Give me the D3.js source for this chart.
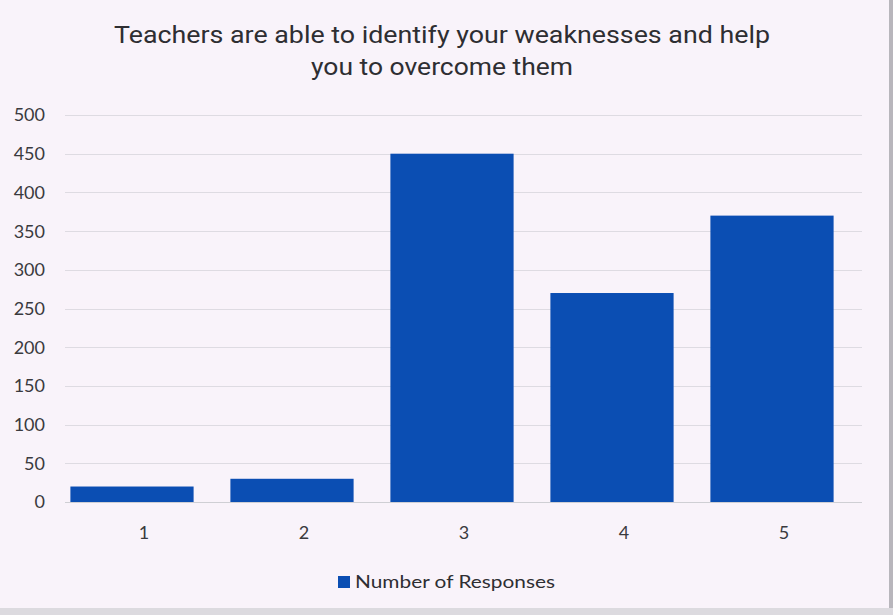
<!DOCTYPE html>
<html>
<head>
<meta charset="utf-8">
<script src="https://cdn.jsdelivr.net/npm/d3@7"></script>
<style>
  body { margin: 0; background: #f9f3fa; }
  svg { display: block; }
</style>
</head>
<body>
<div id="chart"></div>
<script>
// chart data
const categories = ["1", "2", "3", "4", "5"];
const responses = [20, 30, 450, 270, 370];
const yTicks = [0, 50, 100, 150, 200, 250, 300, 350, 400, 450, 500];
const titleLines = ["Teachers are able to identify your weaknesses and help", "you to overcome them"];
const seriesName = "Number of Responses";

const W = 893, H = 615;
const barColor = "#0b4eb3";
const labelFont = "Lato, 'Open Sans', sans-serif";

const svg = d3.select("#chart").append("svg")
    .attr("width", W)
    .attr("height", H);

// page background + scanned edge
svg.append("rect").attr("width", W).attr("height", H).attr("fill", "#f9f3fa");
svg.append("rect").attr("x", W - 4).attr("y", 0).attr("width", 4).attr("height", H).attr("fill", "#b8b6bc");
svg.append("rect").attr("x", 0).attr("y", H - 7).attr("width", W).attr("height", 7).attr("fill", "#dcdadf");

const y = d3.scaleLinear().domain([0, 500]).range([502, 115]);
const x = d3.scaleBand().domain(categories).range([52, 852])
    .paddingInner(0.23).paddingOuter(0.115);

// gridlines
svg.append("g")
    .selectAll("line")
    .data(yTicks)
    .join("line")
    .attr("x1", 65)
    .attr("x2", 862)
    .attr("y1", d => Math.round(y(d)) + 0.5)
    .attr("y2", d => Math.round(y(d)) + 0.5)
    .attr("stroke", d => d === 0 ? "#cfcfd4" : "#dedbe2")
    .attr("stroke-width", 1);

// y axis labels
svg.append("g")
    .selectAll("text")
    .data(yTicks)
    .join("text")
    .attr("x", 45)
    .attr("y", d => y(d))
    .attr("dy", "0.36em")
    .attr("text-anchor", "end")
    .attr("font-family", labelFont)
    .attr("font-size", 18)
    .attr("fill", "#3a3a3e")
    .text(d => d);

// bars
svg.append("g")
    .selectAll("rect")
    .data(responses)
    .join("rect")
    .attr("x", (d, i) => x(categories[i]))
    .attr("y", d => y(d))
    .attr("width", x.bandwidth())
    .attr("height", d => y(0) - y(d))
    .attr("fill", barColor);

// x axis labels (scan is a bit skewed, labels sit right of bar centres)
const xAxis = d3.axisBottom(x).tickSize(0).tickPadding(0);
const gx = svg.append("g")
    .attr("transform", "translate(12, 533)")
    .call(xAxis);
gx.select(".domain").remove();
gx.selectAll("text")
    .attr("dy", "0.36em")
    .attr("font-family", labelFont)
    .attr("font-size", 18)
    .attr("fill", "#3a3a3e");

// title
svg.append("g")
    .selectAll("text")
    .data(titleLines)
    .join("text")
    .attr("x", 442)
    .attr("y", (d, i) => 43 + i * 32)
    .attr("text-anchor", "middle")
    .attr("font-family", "Roboto, 'Noto Sans', sans-serif")
    .attr("font-size", 24)
    .attr("fill", "#2e2e32")
    .attr("textLength", (d, i) => i === 0 ? 656 : 262)
    .attr("lengthAdjust", "spacingAndGlyphs")
    .text(d => d);

// legend
const legend = svg.append("g").attr("transform", "translate(338, 582)");
legend.append("rect")
    .attr("x", 0).attr("y", -6)
    .attr("width", 12).attr("height", 12)
    .attr("fill", barColor);
legend.append("text")
    .attr("x", 17)
    .attr("dy", "0.36em")
    .attr("font-family", labelFont)
    .attr("font-size", 18)
    .attr("fill", "#2e2e32")
    .attr("textLength", 200)
    .attr("lengthAdjust", "spacingAndGlyphs")
    .text(seriesName);
</script>
</body>
</html>
